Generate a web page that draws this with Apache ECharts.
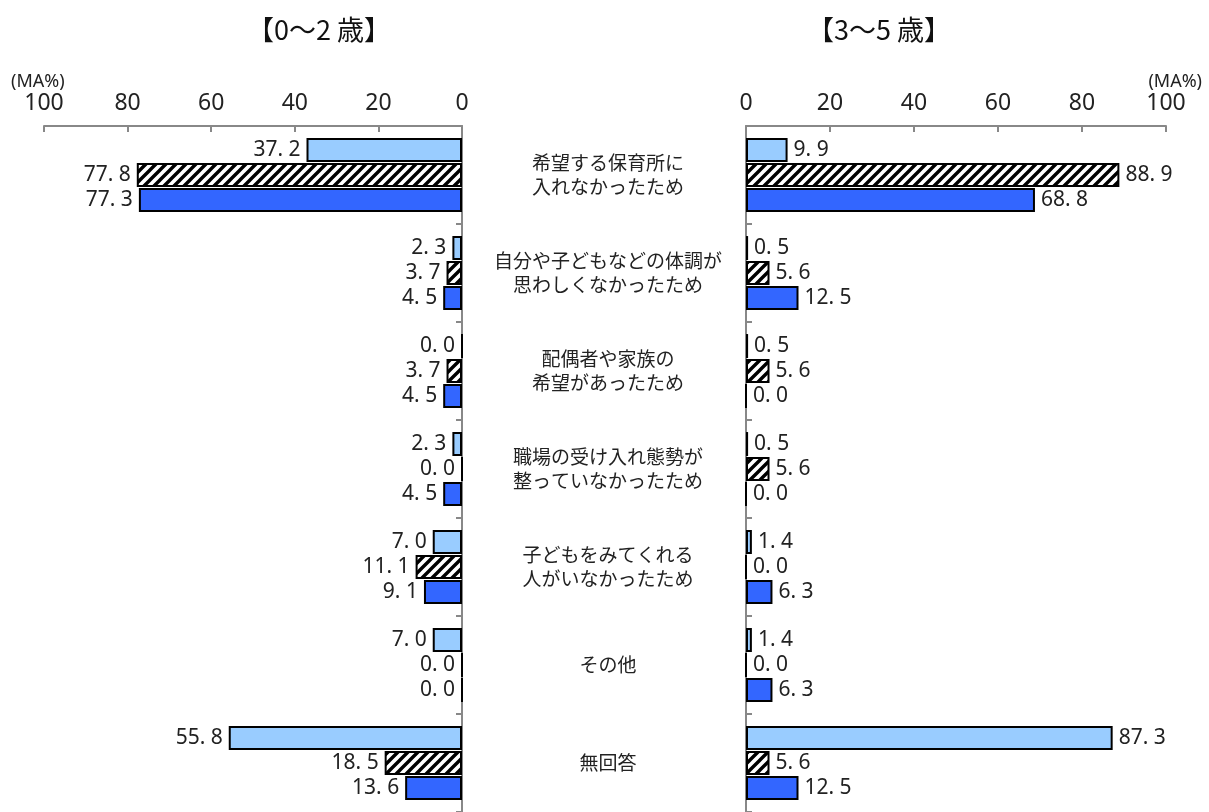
<!DOCTYPE html>
<html>
<head>
<meta charset="utf-8">
<script src="https://cdn.jsdelivr.net/npm/echarts@6/dist/echarts.min.js"></script>
<style>
  html, body { margin: 0; padding: 0; background: #fff; }
  #chart { width: 1209px; height: 812px; }
</style>
</head>
<body>
<div id="chart"></div>
<script>
const categories = [
  "希望する保育所に\n入れなかったため",
  "自分や子どもなどの体調が\n思わしくなかったため",
  "配偶者や家族の\n希望があったため",
  "職場の受け入れ態勢が\n整っていなかったため",
  "子どもをみてくれる\n人がいなかったため",
  "その他",
  "無回答"
];
const xTicks = [0, 20, 40, 60, 80, 100];

// 0～2歳
const leftLight = [37.2, 2.3, 0.0, 2.3, 7.0, 7.0, 55.8];
const leftHatch = [77.8, 3.7, 3.7, 0.0, 11.1, 0.0, 18.5];
const leftBlue = [77.3, 4.5, 4.5, 4.5, 9.1, 0.0, 13.6];
// 3～5歳
const rightLight = [9.9, 0.5, 0.5, 0.5, 1.4, 1.4, 87.3];
const rightHatch = [88.9, 5.6, 5.6, 5.6, 0.0, 0.0, 5.6];
const rightBlue = [68.8, 12.5, 0.0, 0.0, 6.3, 6.3, 12.5];

const numFont = '"Noto Sans", sans-serif';
const jpFont = '"Noto Sans CJK JP", sans-serif';

// diagonal hatch
function hatch() {
  const s = 10;
  const c = document.createElement("canvas");
  c.width = s; c.height = s;
  const g = c.getContext("2d");
  g.fillStyle = "#fff";
  g.fillRect(0, 0, s, s);
  g.strokeStyle = "#000";
  g.lineWidth = 3.4;
  g.beginPath();
  g.moveTo(-2, s + 2); g.lineTo(s + 2, -2);
  g.moveTo(-2, 2); g.lineTo(2, -2);
  g.moveTo(s - 2, s + 2); g.lineTo(s + 2, s - 2);
  g.stroke();
  return c;
}
const hatchFill = { image: hatch(), repeat: "repeat" };

function bar(name, data, color, idx, side) {
  return {
    name: name,
    type: "bar",
    xAxisIndex: idx,
    yAxisIndex: idx,
    data: data,
    barWidth: 24,
    barGap: "4%",
    itemStyle: { color: color, borderColor: "#000", borderWidth: 2 },
    label: {
      show: true,
      position: side,
      distance: 6,
      formatter: p => p.value.toFixed(1).replace(".", ". "),
      fontFamily: numFont,
      fontSize: 21,
      color: "#222"
    },
    animation: false
  };
}

function xAxis(idx, inverse) {
  return {
    type: "value",
    gridIndex: idx,
    position: "top",
    min: 0,
    max: 100,
    interval: 20,
    inverse: inverse,
    axisLine: { show: true, lineStyle: { color: "#888", width: 2 } },
    axisTick: { show: true, inside: true, length: 6, lineStyle: { color: "#888", width: 2 } },
    axisLabel: { fontFamily: numFont, fontSize: 23, color: "#222", margin: 11 },
    splitLine: { show: false }
  };
}

function yAxis(idx, pos, showLabel) {
  return {
    type: "category",
    gridIndex: idx,
    data: categories,
    inverse: true,
    position: pos,
    axisLine: { show: true, lineStyle: { color: "#888", width: 2 } },
    axisTick: { show: true, inside: true, length: 6, lineStyle: { color: "#888", width: 2 } },
    axisLabel: {
      show: showLabel,
      margin: 146,
      align: "center",
      fontFamily: jpFont,
      fontSize: 19,
      lineHeight: 24,
      color: "#222"
    }
  };
}

const chart = echarts.init(document.getElementById("chart"));
chart.setOption({
  backgroundColor: "#fff",
  animation: false,
  title: [
    { text: "【0～2 歳】", left: 314, top: 11, textAlign: "center", textStyle: { fontFamily: jpFont, fontSize: 27, fontWeight: "normal", color: "#111" } },
    { text: "【3～5 歳】", left: 874, top: 11, textAlign: "center", textStyle: { fontFamily: jpFont, fontSize: 27, fontWeight: "normal", color: "#111" } },
    { text: "(MA%)", left: 6, top: 68, textStyle: { fontFamily: numFont, fontSize: 18, fontWeight: "normal", color: "#222" } },
    { text: "(MA%)", right: 2, top: 68, textStyle: { fontFamily: numFont, fontSize: 18, fontWeight: "normal", color: "#222" } }
  ],
  grid: [
    { left: 44, width: 418, top: 126, height: 686 },
    { left: 746, width: 420, top: 126, height: 686 }
  ],
  xAxis: [xAxis(0, true), xAxis(1, false)],
  yAxis: [yAxis(0, "right", true), yAxis(1, "left", false)],
  series: [
    bar("0～2歳 a", leftLight, "#99ccff", 0, "left"),
    bar("0～2歳 b", leftHatch, hatchFill, 0, "left"),
    bar("0～2歳 c", leftBlue, "#3366ff", 0, "left"),
    bar("3～5歳 a", rightLight, "#99ccff", 1, "right"),
    bar("3～5歳 b", rightHatch, hatchFill, 1, "right"),
    bar("3～5歳 c", rightBlue, "#3366ff", 1, "right")
  ]
});
</script>
</body>
</html>
